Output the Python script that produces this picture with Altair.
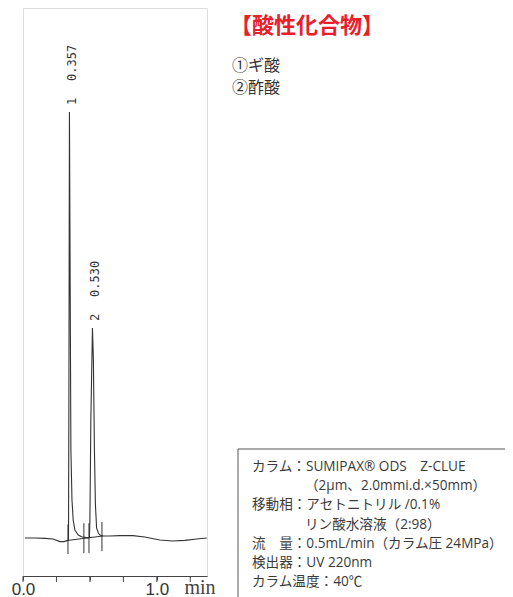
import altair as alt
import pandas as pd

# ---- chromatogram trace (time in min, signal in arbitrary units) ----
trace_t = [0.015, 0.090, 0.164, 0.224, 0.276, 0.306, 0.336, 0.340, 0.343, 0.347,
           0.353, 0.358, 0.366, 0.375, 0.388, 0.413, 0.438, 0.475, 0.496,
           0.500, 0.507, 0.519, 0.526, 0.534, 0.541, 0.550, 0.563, 0.575, 0.597,
           0.649, 0.724, 0.821, 0.910, 1.022, 1.119, 1.209, 1.299, 1.373]
trace_s = [0.5, 0.5, 0.4, 0.25, -0.4, -0.4, -0.1, 0.0, 35, 107,
           60, 22.5, 10, 5, 2.5, 1.25, 0.8, 0.6, 0.6,
           5, 30, 53, 45, 22, 9, 3, 1.75, 1.25, 1.0,
           1.0, 1.1, 1.1, 0.75, 0.0, -0.25, -0.1, 0.25, 0.5]

# integration baseline
base_t = [0.336, 0.597]
base_s = [-0.1, 1.0]

# integration event marks
event_t = [0.336, 0.455, 0.493, 0.590]
event_top = [3.9, 4.2, 4.2, 4.5]
event_bot = [-3.5, -3.3, -3.3, -2.8]

# peaks
peak_ids = ["1", "2"]
peak_rt = ["0.357", "0.530"]
peak_t = [0.350, 0.521]
peak_s = [107, 53]

# axis ticks
tick_minor = [0.0, 0.125, 0.25, 0.375, 0.5, 0.625, 0.75, 0.875, 1.0, 1.125, 1.25, 1.375]
tick_major = [0.0, 0.25, 0.5, 0.75, 1.0, 1.25]

# texts
title_text = "【酸性化合物】"
compounds = ["①ギ酸", "②酢酸"]
info_lines = [
    "カラム：SUMIPAX® ODS　Z-CLUE",
    "（2μm、2.0mmi.d.×50mm）",
    "移動相：アセトニトリル /0.1%",
    "リン酸水溶液（2:98）",
    "流　量：0.5mL/min（カラム圧 24MPa）",
    "検出器：UV 220nm",
    "カラム温度：40℃",
]
info_indent = [False, True, False, True, False, False, False]

LINE = "#333333"
INFO_FONT = "Open Sans, Noto Sans CJK JP"
xs = alt.Scale(domain=[0, 1.375], nice=False, zero=False)
ys = alt.Scale(domain=[-9, 133], nice=False, zero=False)

trace_df = pd.DataFrame({"t": trace_t, "s": trace_s, "i": list(range(len(trace_t)))})
base_df = pd.DataFrame({"t": base_t, "s": base_s})
event_df = pd.DataFrame({"t": event_t, "s": event_bot, "s2": event_top})
peak_df = pd.DataFrame({"t": peak_t, "s": peak_s, "id": peak_ids, "rt": peak_rt})
major_df = pd.DataFrame({"t": tick_major})

xaxis = alt.Axis(values=tick_minor, tickSize=4, tickColor="#444", domainColor="#444",
                 labelExpr="datum.value == 0 || datum.value == 1 ? format(datum.value, '.1f') : ''",
                 labelFont="Liberation Sans", labelFontSize=17, labelColor="#333",
                 labelPadding=1, labelAngle=0, labelOverlap=False, labelFlush=False,
                 grid=False, title=None)

trace = alt.Chart(trace_df).mark_line(color=LINE, strokeWidth=1.1).encode(
    x=alt.X("t:Q", scale=xs, axis=xaxis),
    y=alt.Y("s:Q", scale=ys, axis=None),
    order="i:Q",
)
base = alt.Chart(base_df).mark_line(color=LINE, strokeWidth=1).encode(
    x=alt.X("t:Q", scale=xs), y=alt.Y("s:Q", scale=ys))
events = alt.Chart(event_df).mark_rule(color=LINE, strokeWidth=1).encode(
    x=alt.X("t:Q", scale=xs), y=alt.Y("s:Q", scale=ys), y2="s2:Q")
major = alt.Chart(major_df).mark_rule(color="#444", strokeWidth=1).encode(
    x=alt.X("t:Q", scale=xs), y=alt.value(568), y2=alt.value(574))

pid = alt.Chart(peak_df).mark_text(angle=270, align="left", baseline="middle",
                                   font="DejaVu Sans Mono", fontSize=12, color=LINE,
                                   dx=7, dy=2.5).encode(
    x=alt.X("t:Q", scale=xs), y=alt.Y("s:Q", scale=ys), text="id:N")
prt = alt.Chart(peak_df).mark_text(angle=270, align="left", baseline="middle",
                                   font="DejaVu Sans Mono", fontSize=12, color=LINE,
                                   dx=31, dy=2.5).encode(
    x=alt.X("t:Q", scale=xs), y=alt.Y("s:Q", scale=ys), text="rt:N")

minlbl = alt.Chart(pd.DataFrame({"txt": ["min"]})).mark_text(
    font="Liberation Serif", fontSize=20, color="#444", align="center", baseline="middle").encode(
    x=alt.value(177), y=alt.value(580), text="txt:N")

title = alt.Chart(pd.DataFrame({"txt": [title_text]})).mark_text(
    font="Noto Sans CJK JP", fontSize=22, fontWeight="bold", color="#e8202a",
    align="left", baseline="middle").encode(x=alt.value(207), y=alt.value(18), text="txt:N")

layers = [trace, base, events, major, pid, prt, minlbl, title]

for k, c in enumerate(compounds):
    layers.append(alt.Chart(pd.DataFrame({"txt": [c]})).mark_text(
        font="Noto Sans CJK JP", fontSize=16, color="#333", align="left", baseline="middle").encode(
        x=alt.value(209), y=alt.value(58 + 22 * k), text="txt:N"))

box = alt.Chart(pd.DataFrame({"a": [0]})).mark_rect(fillOpacity=0, stroke="#555", strokeWidth=1).encode(
    x=alt.value(215), x2=alt.value(520), y=alt.value(441), y2=alt.value(620))
layers.append(box)

for k, (ln, ind) in enumerate(zip(info_lines, info_indent)):
    layers.append(alt.Chart(pd.DataFrame({"txt": [ln]})).mark_text(
        font=INFO_FONT, fontSize=13.6, color="#3a3a3a", align="left", baseline="middle").encode(
        x=alt.value(282 if ind else 229), y=alt.value(459 + 19.2 * k), text="txt:N"))

chart = alt.layer(*layers).properties(
    width=184, height=568,
    padding={"left": 15, "top": 0, "right": 298, "bottom": 21},
    autosize=alt.AutoSizeParams(type="none"),
).configure_view(stroke=None).configure(background="white")

chart.save("out.html", embed_options={"renderer": "svg", "actions": False})
